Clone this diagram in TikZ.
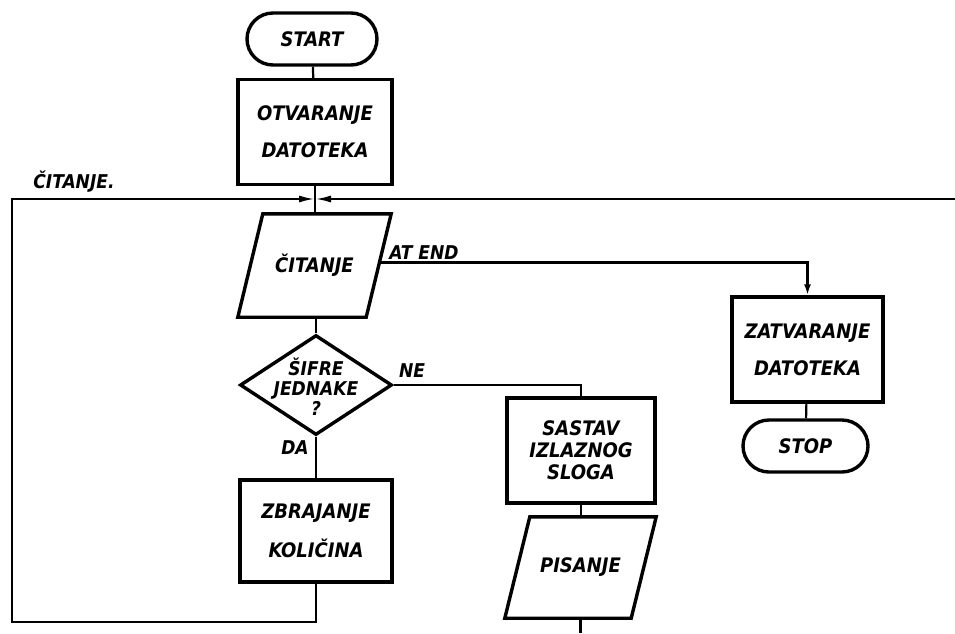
\documentclass[tikz,border=0pt]{standalone}
\usepackage{fontspec}
\setmainfont{DejaVu Sans Condensed}
\usetikzlibrary{shapes.geometric,arrows.meta}
\begin{document}
\begin{tikzpicture}[x=1pt,y=-1pt,
  every node/.style={font=\fontsize{20}{22}\selectfont\bfseries\itshape, align=center, inner sep=0pt},
  procbox/.style={draw, line width=3.4pt, rectangle},
  termbox/.style={draw, line width=3.4pt, rectangle, rounded corners=26pt},
  iobox/.style={rectangle},
  decbox/.style={draw, line width=3.4pt, diamond, aspect=1.52},
  conn/.style={line width=2.2pt},
  lbl/.style={font=\fontsize{19}{20}\selectfont\bfseries\itshape},
  jtip/.style={-{Latex[length=16pt,width=7pt]}},
  dtip/.style={-{Latex[length=11pt,width=7pt]}}
]
\useasboundingbox (0,0) rectangle (955,633);

% nodes
\node[termbox, minimum width=130pt, minimum height=52pt] (start) at (312,39) {START};
\node[procbox, minimum width=154pt, minimum height=105pt] (open) at (315,132) {OTVARANJE\\[15pt]DATOTEKA};
\node[iobox, minimum width=128pt, minimum height=103pt] (cit) at (314.5,265.5) {ČITANJE};
\draw[line width=3.4pt] ([xshift=12.5pt]cit.north west) -- ([xshift=12.5pt]cit.north east)
   -- ([xshift=-12.5pt]cit.south east) -- ([xshift=-12.5pt]cit.south west) -- cycle;
\node[decbox, minimum width=152pt, minimum height=100pt] (dia) at (316,385) {};
\node[font=\fontsize{19}{20}\selectfont\bfseries\itshape] (diat) at (316,387) {ŠIFRE\\JEDNAKE\\?};
\node[procbox, minimum width=152pt, minimum height=102pt] (zbr) at (316,531) {ZBRAJANJE\\[15pt]KOLIČINA};
\node[procbox, minimum width=148pt, minimum height=105pt] (sas) at (581,450.5) {SASTAV\\IZLAZNOG\\SLOGA};
\node[iobox, minimum width=126pt, minimum height=101pt] (pis) at (580.5,567.5) {PISANJE};
\draw[line width=3.4pt] ([xshift=12.5pt]pis.north west) -- ([xshift=12.5pt]pis.north east)
   -- ([xshift=-12.5pt]pis.south east) -- ([xshift=-12.5pt]pis.south west) -- cycle;
\node[procbox, minimum width=151pt, minimum height=105pt] (zat) at (807.5,349.5) {ZATVARANJE\\[15pt]DATOTEKA};
\node[termbox, minimum width=125pt, minimum height=52pt] (stop) at (805.5,446) {STOP};

% coordinates
\coordinate (jn) at (315,199);
\coordinate (tl) at (12,199);
\coordinate (tr) at (955,199);
\coordinate (bl) at (12,622);
\coordinate (pend) at (580.5,633);

% labels
\node[lbl] (lcit) at (74,182) {ČITANJE.};
\node[lbl] (lat) at (424,253) {AT END};
\node[lbl] (lne) at (412,371) {NE};
\node[lbl] (lda) at (295,448) {DA};

% connectors
\draw[conn] (start) -- (open);
\draw[conn] (open.south) -- (jn) -- (cit.north -| jn);
\draw[conn, jtip] (tr) -- (jn);
\draw[conn, jtip] (zbr.south) -- (zbr.south |- bl) -- (bl) -- (tl) -- (jn);
\draw[conn, dtip] ([yshift=3pt]cit.east) -- ([yshift=3pt]cit.east -| zat.north) -- (zat.north);
\draw[conn] (cit.south -| dia.north) -- (dia.north);
\draw[conn] (dia.south) -- (zbr.north);
\draw[conn] (dia.east) -- (dia.east -| sas.north) -- (sas.north);
\draw[conn] (sas.south) -- (pis.north -| sas.south);
\draw[conn] (pis.south) -- (pend);
\draw[conn] (zat) -- (stop);
\end{tikzpicture}
\end{document}
